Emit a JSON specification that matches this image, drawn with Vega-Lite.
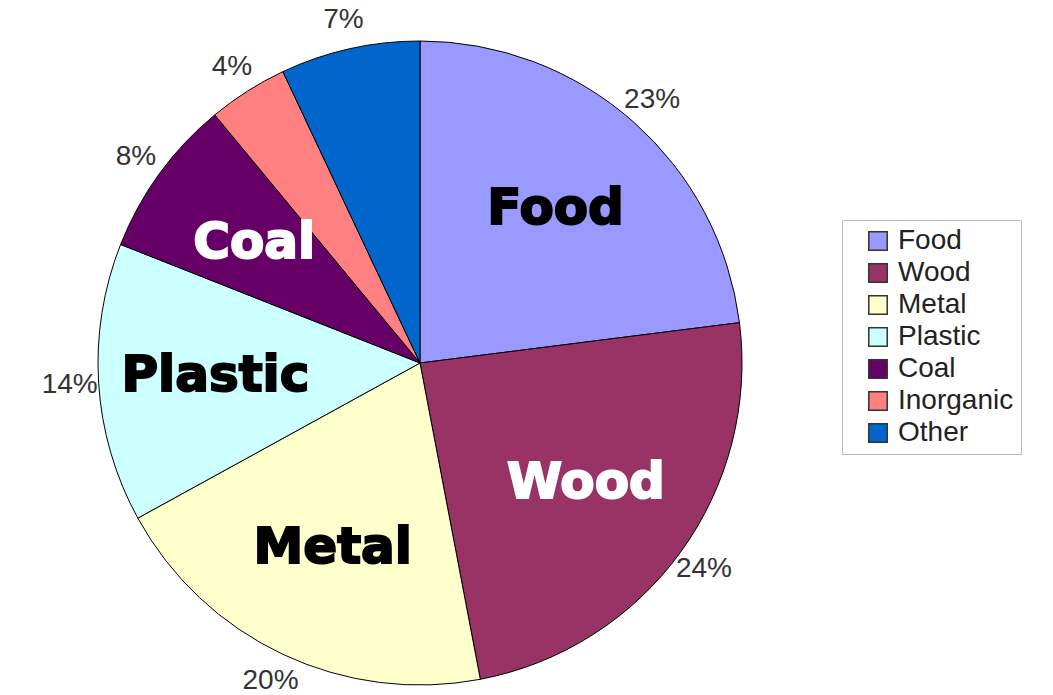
{
  "$schema": "https://vega.github.io/schema/vega-lite/v6.json",
  "autosize": {"type": "none"},
  "width": 840,
  "height": 660,
  "padding": {"left": 0, "top": 33, "right": 213, "bottom": 2},
  "background": "white",
  "config": {"view": {"stroke": null}},
  "data": {"values": [
    {"i": 1, "name": "Food", "value": 23},
    {"i": 2, "name": "Wood", "value": 24},
    {"i": 3, "name": "Metal", "value": 20},
    {"i": 4, "name": "Plastic", "value": 14},
    {"i": 5, "name": "Coal", "value": 8},
    {"i": 6, "name": "Inorganic", "value": 4},
    {"i": 7, "name": "Other", "value": 7}
  ]},
  "transform": [
    {"calculate": "datum.value + '%'", "as": "label"},
    {"calculate": "datum.name === 'Inorganic' || datum.name === 'Other' ? '' : datum.name", "as": "inner"}
  ],
  "encoding": {
    "theta": {"field": "value", "type": "quantitative", "stack": true},
    "order": {"field": "i", "type": "quantitative"},
    "color": {
      "field": "name",
      "type": "nominal",
      "scale": {
        "domain": ["Food", "Wood", "Metal", "Plastic", "Coal", "Inorganic", "Other"],
        "range": ["#9999FF", "#993366", "#FFFFCC", "#CCFFFF", "#660066", "#FF8080", "#0066CC"]
      },
      "legend": {
        "title": null,
        "orient": "none",
        "legendX": 842,
        "legendY": 187,
        "symbolType": "square",
        "symbolSize": 340,
        "symbolStrokeColor": "#333333",
        "symbolStrokeWidth": 1.5,
        "symbolOpacity": 1,
        "symbolOffset": 15,
        "labelFont": "Liberation Sans",
        "labelFontSize": 28,
        "labelColor": "#222222",
        "labelOffset": 6,
        "labelLimit": 300,
        "rowPadding": 4,
        "padding": 7,
        "strokeColor": "#bbbbbb",
        "fillColor": "white"
      }
    }
  },
  "layer": [
    {"mark": {"type": "arc", "outerRadius": 322, "stroke": "#000000", "strokeWidth": 1}},
    {
      "mark": {"type": "text", "radius": 351, "fontSize": 28, "font": "Liberation Sans"},
      "encoding": {"text": {"field": "label"}, "fill": {"value": "#333333"}}
    },
    {
      "mark": {"type": "text", "radius": 205, "fontSize": 50, "font": "DejaVu Sans", "fontWeight": "bold", "strokeWidth": 2},
      "encoding": {
        "text": {"field": "inner"},
        "fill": {"condition": {"test": "datum.name === 'Wood' || datum.name === 'Coal'", "value": "#ffffff"}, "value": "#000000"},
        "stroke": {"condition": {"test": "datum.name === 'Wood' || datum.name === 'Coal'", "value": "#ffffff"}, "value": "#000000"}
      }
    }
  ]
}
